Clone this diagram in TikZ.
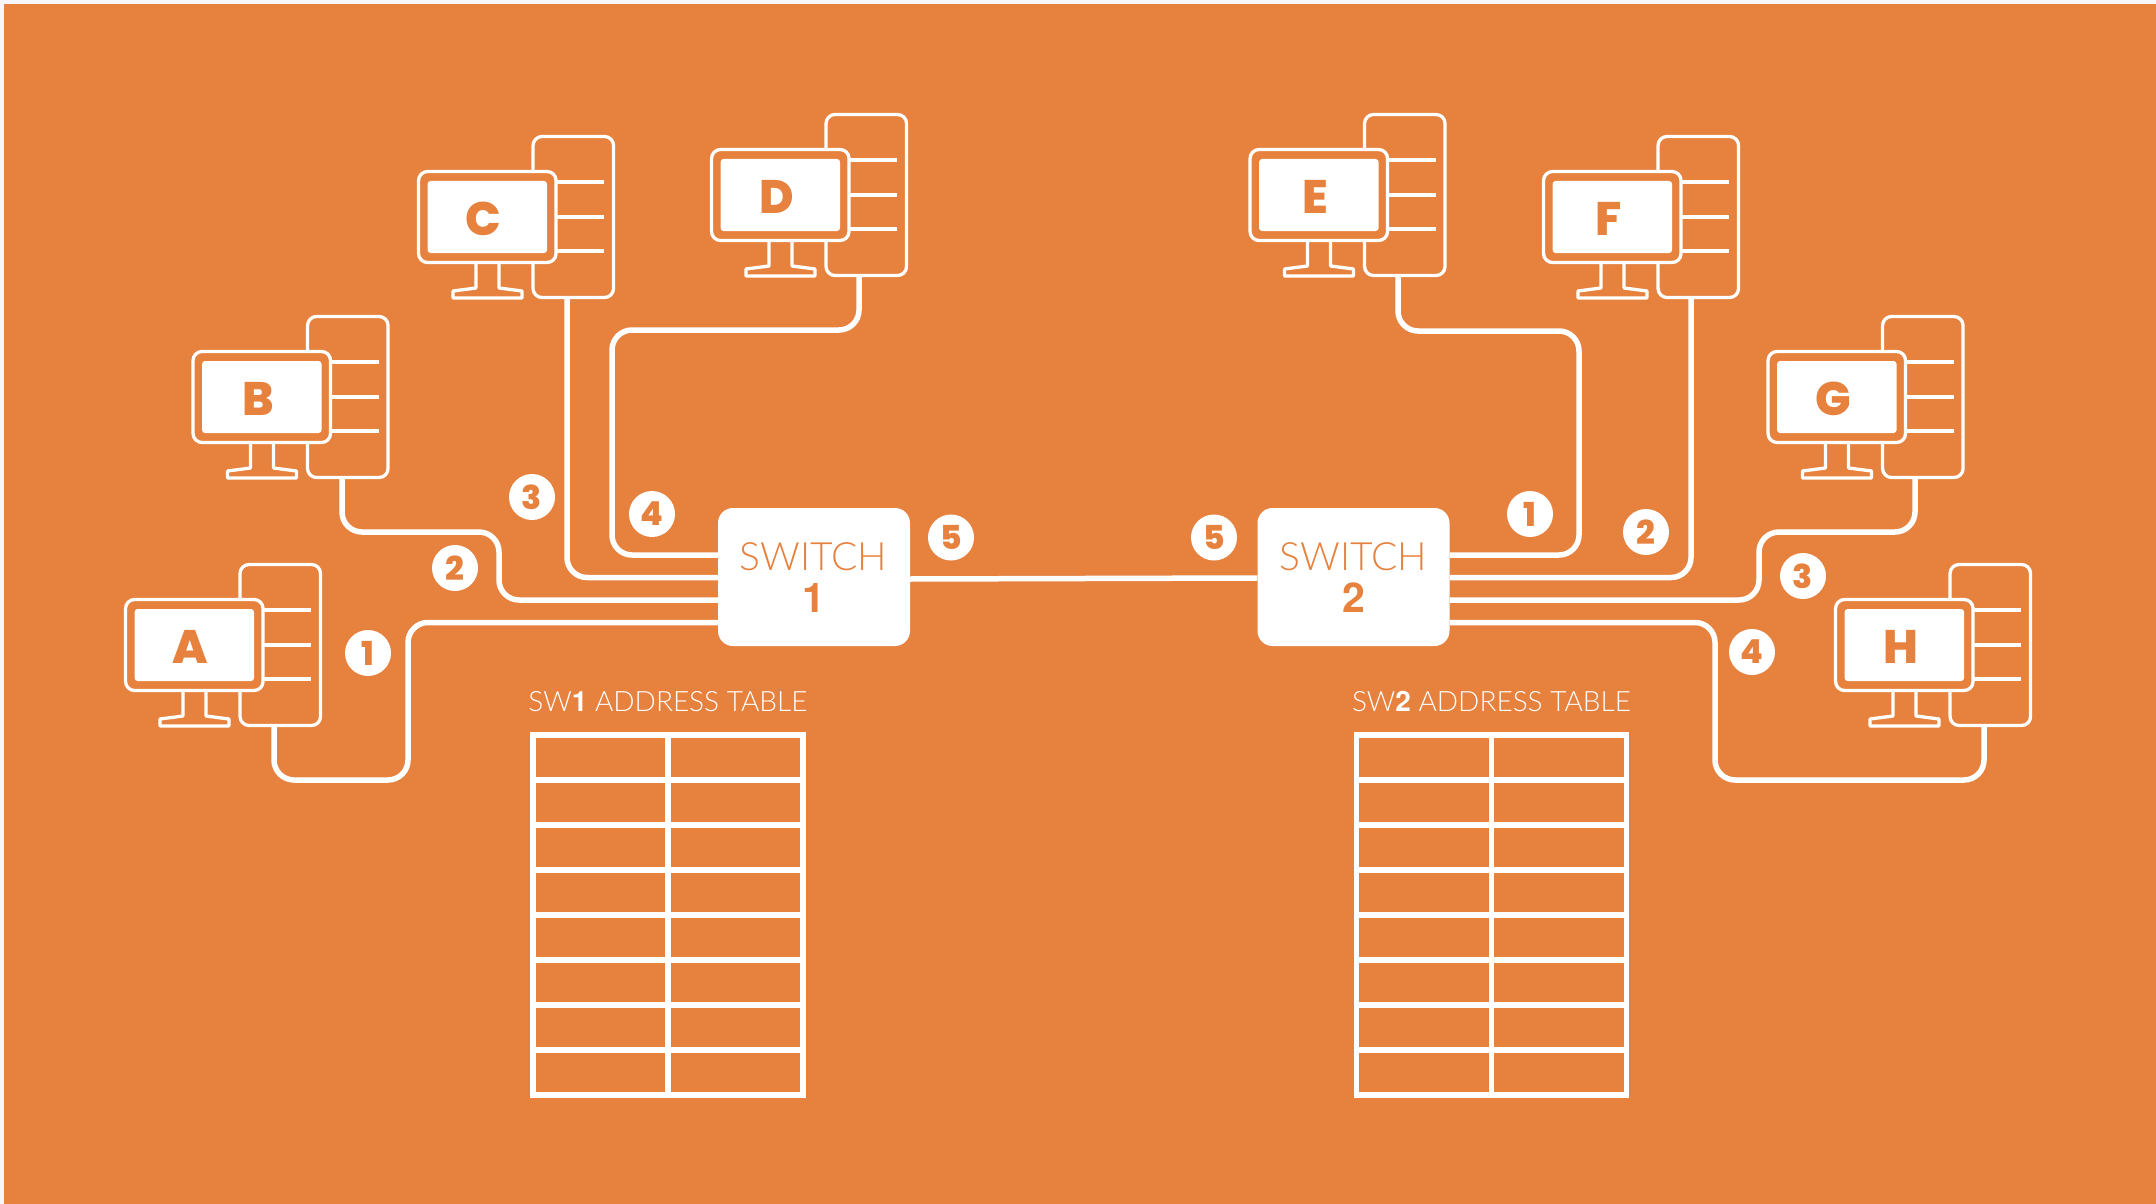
\documentclass[tikz,border=0pt]{standalone}
\usepackage{fontspec}
\setmainfont{Liberation Sans}
\newfontfamily\thinfont{Lato}[UprightFont=* Light,BoldFont=TeX Gyre Heros Bold]
\newfontfamily\heavyfont{Poppins}[UprightFont=* ExtraBold]
\definecolor{bgorange}{HTML}{E6813E}
\definecolor{paper}{HTML}{F6F6F8}
\tikzset{
  ink/.style={draw=white,line width=3.3pt,line join=round},
  towerbox/.style={ink,fill=bgorange,rounded corners=9pt,minimum width=80.5pt,minimum height=161pt,inner sep=0pt},
  monbox/.style={ink,fill=bgorange,rounded corners=9pt,minimum width=137.5pt,minimum height=91pt,inner sep=0pt},
  screenbox/.style={fill=white,rounded corners=3pt,minimum width=119.5pt,minimum height=72pt,inner sep=0pt},
  lettertext/.style={text=bgorange,inner sep=0pt,font=\heavyfont\fontsize{47}{47}\selectfont},
  cable/.style={draw=white,line width=5.5pt,rounded corners=20pt},
  badge/.style={circle,fill=white,text=bgorange,minimum size=46pt,inner sep=0pt,font=\heavyfont\fontsize{33}{33}\selectfont},
  switchbox/.style={fill=white,text=bgorange,rounded corners=15pt,minimum width=192pt,minimum height=138pt,inner sep=0pt},
  tablerule/.style={draw=white,line width=5.5pt},
  caption/.style={text=white,inner sep=0pt,font=\thinfont\fontsize{28}{28}\selectfont},
  switchtext/.style={text=bgorange,inner sep=0pt,font=\thinfont\fontsize{39}{39}\selectfont},
  switchnum/.style={text=bgorange,inner sep=0pt,font=\thinfont\bfseries\fontsize{41}{41}\selectfont},
}
\newcommand{\computer}[4]{%
  \begin{scope}[shift={(#3,#4)}]
    \node[towerbox] (tower#1) at (280.3,645) {};
    \draw[ink] (264,610) -- (311,610) (264,645) -- (311,645) (264,679) -- (311,679);
    \draw[ink] (183,692) -- (183,716) -- (160,719) -- (160,726) -- (229,726) -- (229,719) -- (206,716) -- (206,692);
    \node[monbox] (monitor#1) at (194.3,645) {};
    \node[screenbox] (screen#1) at (194.3,645) {};
    \node[lettertext] (letter#1) at (190.5,646.5) {#2};
  \end{scope}}
\begin{document}
\begin{tikzpicture}[x=1pt,y=-1pt]
\useasboundingbox (0,0) rectangle (2156,1204);
\fill[paper] (0,0) rectangle (2156,1204);
\fill[bgorange] (4,4) rectangle (2156,1203.5);

% switches
\node[switchbox] (sw1) at (814,577) {};
\node[switchbox] (sw2) at (1353.5,577) {};

% computers
\computer{A}{A}{0}{0}
\computer{B}{B}{67.5}{-248}
\computer{C}{C}{293}{-428}
\computer{D}{D}{586}{-450}
\computer{E}{E}{1124.5}{-450}
\computer{F}{F}{1418}{-428}
\computer{G}{G}{1642.5}{-248}
\computer{H}{H}{1710}{0}

% cables
\draw[cable] (towerA.south -| 274,0) -- (274,780) -- (408,780) -- (408,622.5) -- (sw1.west |- 0,622.5);
\draw[cable] (towerB.south -| 342,0) -- (342,532) -- (499,532) -- (499,600) -- (sw1.west |- 0,600);
\draw[cable] (towerC.south -| 567,0) -- (567,577.5) -- (sw1.west |- 0,577.5);
\draw[cable] (towerD.south -| 859,0) -- (859,330) -- (612,330) -- (612,555) -- (sw1.west |- 0,555);
\draw[cable] (towerE.south -| 1398,0) -- (1398,331) -- (1579,331) -- (1579,555) -- (sw2.east |- 0,555);
\draw[cable] (towerF.south -| 1691,0) -- (1691,577.5) -- (sw2.east |- 0,577.5);
\draw[cable] (towerG.south -| 1915,0) -- (1915,532) -- (1759,532) -- (1759,600) -- (sw2.east |- 0,600);
\draw[cable] (towerH.south -| 1984,0) -- (1984,780) -- (1715,780) -- (1715,622.5) -- (sw2.east |- 0,622.5);
\draw[cable] (sw1.east |- 0,579) -- (sw2.west |- 0,578);

% switch labels
\node[switchtext] (t1a) at (813.5,557) {SWITCH};
\node[switchnum] (t1b) at (813.5,598) {1};
\node[switchtext] (t2a) at (1353.5,557) {SWITCH};
\node[switchnum] (t2b) at (1353.5,598) {2};

% badges
\node[badge] (a1) at (368,653) {1};
\node[badge] (a2) at (455,568) {2};
\node[badge] (a3) at (532,497) {3};
\node[badge] (a4) at (652,514) {4};
\node[badge] (a5) at (951,537.5) {5};
\node[badge] (b5) at (1214,537.5) {5};
\node[badge] (b1) at (1530,514) {1};
\node[badge] (b2) at (1646,532) {2};
\node[badge] (b3) at (1803,576) {3};
\node[badge] (b4) at (1752,652) {4};

% tables
\foreach \name/\lab/\ox in {one/1/0,two/2/823.5}{
  \begin{scope}[shift={(\ox,0)}]
    \node[caption] (cap\name) at (668,701.5) {SW\textbf{\lab} ADDRESS TABLE};
    \draw[tablerule] (533,735) rectangle (803,1095);
    \draw[tablerule] (668,735) -- (668,1095);
    \foreach \r in {780,825,870,915,960,1005,1050}
      \draw[tablerule] (533,\r) -- (803,\r);
  \end{scope}
}
\end{tikzpicture}
\end{document}
